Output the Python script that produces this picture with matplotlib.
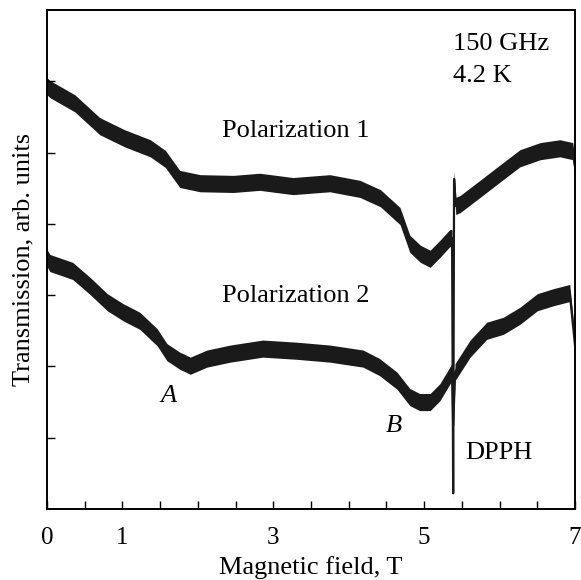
import matplotlib
matplotlib.use("Agg")
import matplotlib.pyplot as plt
import numpy as np

# Polarization 1 trace (field in T, transmission in arb. units)
field_1 = [0.0, 0.04, 0.37, 0.70, 1.03, 1.37, 1.57, 1.76, 2.03, 2.47, 2.82, 3.26,
           3.75, 4.15, 4.42, 4.68, 4.81, 4.95, 5.08, 5.21, 5.34, 5.37, 5.385, 5.397,
           5.42, 5.48, 5.74, 6.01, 6.27, 6.54, 6.80, 6.97, 7.0]
trans_1 = [5.93, 5.89, 5.69, 5.37, 5.20, 5.06, 4.91, 4.63, 4.57, 4.56, 4.59, 4.53,
           4.57, 4.49, 4.36, 4.11, 3.72, 3.58, 3.51, 3.65, 3.80, 3.80, 0.22, 4.63,
           4.25, 4.28, 4.49, 4.71, 4.92, 5.02, 5.06, 5.02, 4.80]

# Polarization 2 trace
field_2 = [0.0, 0.04, 0.34, 0.57, 0.80, 1.01, 1.23, 1.46, 1.59, 1.76, 1.90, 2.12,
           2.43, 2.86, 3.31, 3.75, 4.19, 4.41, 4.64, 4.81, 4.94, 5.08, 5.21, 5.34,
           5.37, 5.385, 5.41, 5.61, 5.83, 6.05, 6.27, 6.50, 6.71, 6.93, 7.0]
trans_2 = [3.52, 3.45, 3.34, 3.13, 2.90, 2.76, 2.64, 2.41, 2.20, 2.08, 2.01, 2.11,
           2.18, 2.25, 2.22, 2.18, 2.11, 1.99, 1.80, 1.57, 1.50, 1.50, 1.64, 1.87,
           1.92, 1.17, 1.92, 2.25, 2.50, 2.57, 2.71, 2.90, 2.97, 3.03, 2.30]

# half width of the noise band
noise = 0.12

x_ticks = [0, 0.5, 1, 1.5, 2, 2.5, 3, 3.5, 4, 4.5, 5, 5.5, 6, 6.5, 7]
x_labels = ["0", "", "1", "", "", "", "3", "", "", "", "5", "", "", "", "7"]
y_ticks = [1, 2, 3, 4, 5, 6]

plt.rcParams['font.family'] = ['Liberation Serif', 'DejaVu Serif']

fig = plt.figure(figsize=(5.81, 5.80), dpi=100)
ax = fig.add_axes([47 / 581, 1 - 509 / 580, 528 / 581, 499 / 580])

for fx, ty in [(field_1, trans_1), (field_2, trans_2)]:
    fx = np.array(fx)
    ty = np.array(ty)
    ax.fill_between(fx, ty - noise, ty + noise, color="#1a1a1a", lw=0)
    ax.plot(fx, ty, color="#1a1a1a", lw=1.6, solid_joinstyle="round")

ax.set_xlim(0, 7)
ax.set_ylim(0, 7)
ax.set_xticks(x_ticks)
ax.set_xticklabels(x_labels)
ax.set_yticks(y_ticks)
ax.set_yticklabels([])
ax.tick_params(direction="in", length=6, width=1, labelsize=18)
ax.tick_params(axis="x", pad=13)
ax.tick_params(axis="y", pad=8)
for s in ax.spines.values():
    s.set_linewidth(1.4)

ax.set_xlabel("Magnetic field, T", fontsize=19, labelpad=5)
ax.set_ylabel("Transmission, arb. units", fontsize=19, labelpad=1)

ax.text(5.38, 6.52, "150 GHz", fontsize=19, va="center")
ax.text(5.38, 6.07, "4.2 K", fontsize=19, va="center")
ax.text(2.32, 5.30, "Polarization 1", fontsize=19, va="center")
ax.text(2.32, 2.99, "Polarization 2", fontsize=19, va="center")
ax.text(1.50, 1.59, "A", fontsize=19, style="italic", va="center")
ax.text(4.49, 1.17, "B", fontsize=19, style="italic", va="center")
ax.text(5.54, 0.78, "DPPH", fontsize=19, va="center")

fig.savefig("out.png", dpi=100)
